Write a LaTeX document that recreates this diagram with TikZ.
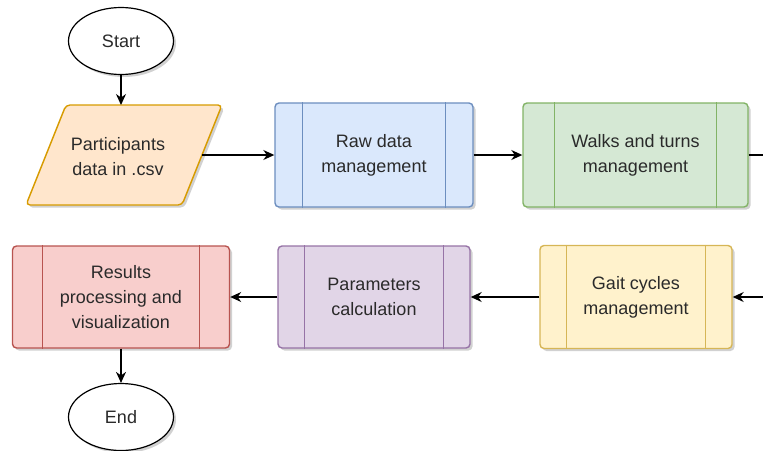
\documentclass[tikz,border=0pt]{standalone}
\usepackage{fontspec}
\setmainfont{Liberation Sans}
\usetikzlibrary{arrows.meta,shadows,calc,shapes.geometric}
\definecolor{txt}{HTML}{2A2A2A}
\definecolor{orF}{HTML}{FFE6CC}\definecolor{orD}{HTML}{D79B00}
\definecolor{blF}{HTML}{DAE8FC}\definecolor{blD}{HTML}{6C8EBF}
\definecolor{grF}{HTML}{D5E8D4}\definecolor{grD}{HTML}{82B366}
\definecolor{yeF}{HTML}{FFF2CC}\definecolor{yeD}{HTML}{D6B656}
\definecolor{puF}{HTML}{E1D5E7}\definecolor{puD}{HTML}{9673A6}
\definecolor{reF}{HTML}{F8CECC}\definecolor{reD}{HTML}{B85450}
\tikzset{
  lbl/.style={font=\fontsize{18}{25}\selectfont, text=txt, align=center},
  shad/.style={drop shadow={shadow xshift=2.5pt, shadow yshift=-2.5pt, opacity=0.3, fill=black!60}},
  proc/.style={rectangle, rounded corners=4pt, line width=1.4pt, inner sep=0pt, lbl, shad},
  term/.style={ellipse, draw=black, fill=white, line width=1.2pt, minimum width=105pt, minimum height=67pt, inner sep=0pt, lbl, shad},
  flow/.style={line width=1.3pt, draw=black, -{Stealth[length=11pt,width=10pt]}},
}
\begin{document}
\begin{tikzpicture}[x=1pt,y=-1pt]
\useasboundingbox (0,0) rectangle (763,450);
\clip (0,0) rectangle (763,450);
% terminals
\node[term] (start) at (121,41) {Start};
\node[term] (end) at (121,417) {End};
% input parallelogram
\path[fill=orF, draw=orD, line width=1.4pt, rounded corners=4pt, shad]
  (66,105) -- (222,105) -- (182,205) -- (26,205) -- cycle;
\node[lbl] (data) at (118,157) {Participants\\data in .csv};
\coordinate (dataN) at (121,105);
\coordinate (dataE) at (202,155);
% process boxes
\node[proc, fill=blF, draw=blD, minimum width=198pt, minimum height=104pt] (raw) at (374,155) {Raw data\\management};
\node[proc, fill=grF, draw=grD, minimum width=225pt, minimum height=104pt] (walks) at (635.5,155) {Walks and turns\\management};
\node[proc, fill=yeF, draw=yeD, minimum width=192pt, minimum height=103pt] (gait) at (636,297) {Gait cycles\\management};
\node[proc, fill=puF, draw=puD, minimum width=192pt, minimum height=102pt] (params) at (374,297) {Parameters\\calculation};
\node[proc, fill=reF, draw=reD, minimum width=217pt, minimum height=102pt] (results) at (121,297) {Results\\processing and\\visualization};
% inner process lines
\foreach \n/\c/\d in {raw/blD/28, walks/grD/32, gait/yeD/27, params/puD/27, results/reD/31}{
  \draw[\c, line width=1.2pt] ($(\n.north west)+(\d,0)$) -- ($(\n.south west)+(\d,0)$);
  \draw[\c, line width=1.2pt] ($(\n.north east)+(-\d,0)$) -- ($(\n.south east)+(-\d,0)$);
}
% connectors
\draw[flow] (start.south) -- (dataN);
\draw[flow] (dataE) -- (raw.west);
\draw[flow] (raw.east) -- (walks.west);
\draw[flow] (walks.east) -- ++(45,0) |- (gait.east);
\draw[flow] (gait.west) -- (params.east);
\draw[flow] (params.west) -- (results.east);
\draw[flow] (results.south) -- (end.north);
\end{tikzpicture}
\end{document}
